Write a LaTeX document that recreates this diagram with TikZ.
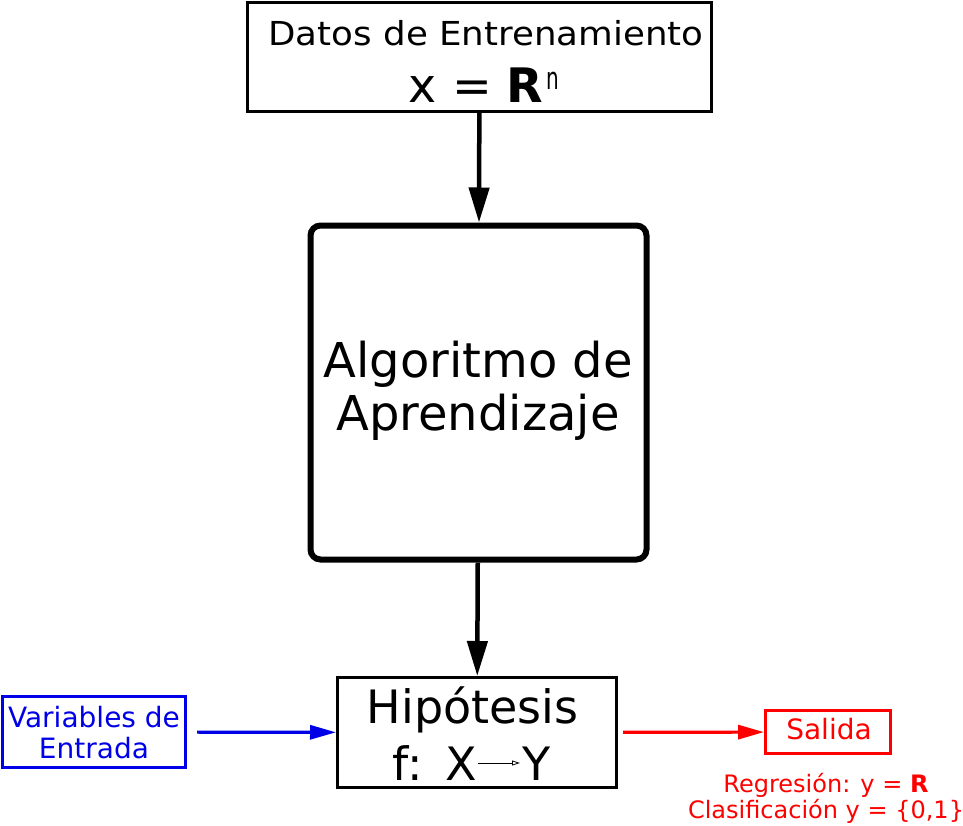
\documentclass[tikz,border=0pt]{standalone}
\usepackage{fontspec}
\setmainfont{DejaVu Sans}
\newfontfamily\widefont[FakeStretch=1.08]{DejaVu Sans}
\usetikzlibrary{arrows.meta}
\definecolor{myblue}{RGB}{0,0,230}
\definecolor{myred}{RGB}{255,0,0}
\begin{document}
\begin{tikzpicture}[x=1pt,y=-1pt,
  thinbox/.style={draw, line width=3pt, inner sep=0pt},
  txt/.style={inner sep=0pt, anchor=base},
  bigarrow/.style={line width=4.5pt, -{Triangle[length=35pt,width=20pt]}},
  smallarrow/.style={line width=3.2pt, -{Triangle[length=26pt,width=14pt]}},
  fs/.style={font=\fontsize{#1}{#1}\selectfont}]
\useasboundingbox (0,0) rectangle (963,825);
% boxes
\node[thinbox, minimum width=464pt, minimum height=109pt] (datos) at (479.5,57) {};
\node[draw, line width=6pt, rounded corners=10pt, inner sep=0pt, minimum width=336pt, minimum height=334pt] (algo) at (478.5,392.5) {};
\node[thinbox, minimum width=279pt, minimum height=110pt] (hip) at (477,732.5) {};
\node[thinbox, draw=myblue, minimum width=183pt, minimum height=71pt] (var) at (94,732) {};
\node[thinbox, draw=myred, minimum width=125pt, minimum height=43pt] (sal) at (828,732) {};
% texts
\node[txt, font=\widefont\fontsize{33}{33}\selectfont] (t1) at (486,45) {Datos de Entrenamiento};
\node[txt, fs=47.5] (t2) at (484,102) {x = \textbf{R}\hspace{3pt}\raisebox{13pt}{\scalebox{1}[1.55]{\fontsize{20}{20}\selectfont n}}};
\node[txt, fs=48] (t3) at (478,377) {Algoritmo de};
\node[txt, fs=48] (t4) at (478,430) {Aprendizaje};
\node[txt, fs=46] (t5) at (472.5,723) {Hipótesis};
\node[txt, fs=46, anchor=base east] (fx) at (477,780) {f:\hspace{3pt} X};
\node[txt, fs=46, anchor=base west] (fy) at (522,780) {Y};
\node[txt, fs=28, text=myblue] (t6) at (94,727) {Variables de};
\node[txt, fs=28, text=myblue] (t7) at (94,758) {Entrada};
\node[txt, fs=28, text=myred] (t8) at (829,739) {Salida};
\node[txt, fs=24, text=myred] (t9) at (826,792) {Regresión: y = \textbf{R}};
\node[txt, fs=24, text=myred] (t10) at (826,818) {Clasificación y = \{0,1\}};
% connectors
\draw[bigarrow] (datos) -- (algo);
\draw[bigarrow] (algo) -- (hip);
\draw[smallarrow, myblue, shorten <=10pt] (var) -- (hip);
\draw[smallarrow, myred, shorten <=5pt] (hip) -- (sal);
\draw[line width=0.8pt, -{Triangle[open,length=8pt,width=5pt]}] ([yshift=17pt,xshift=1pt]fx.base east) -- ([yshift=17pt,xshift=-2pt]fy.base west);
\end{tikzpicture}
\end{document}
